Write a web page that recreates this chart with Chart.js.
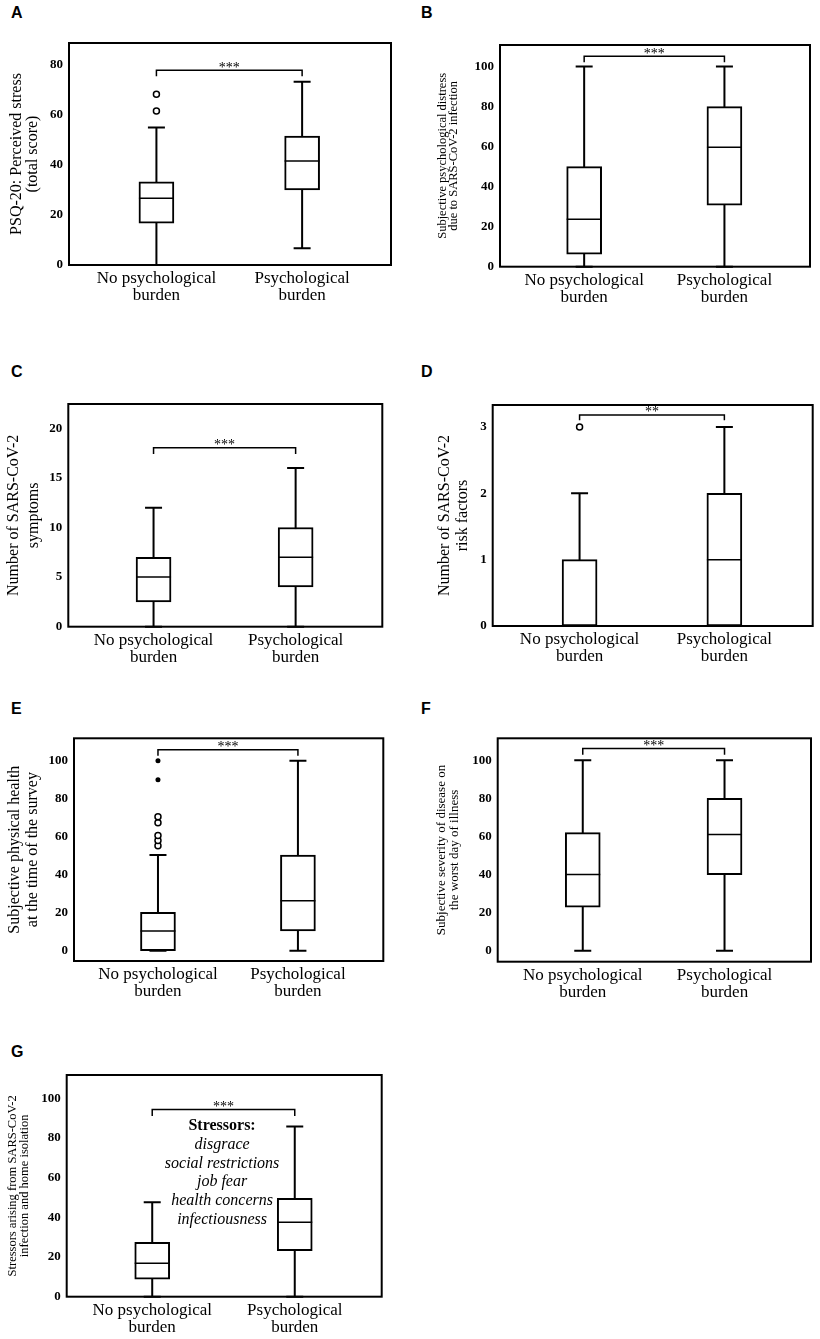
<!DOCTYPE html>
<html>
<head>
<meta charset="utf-8">
<title>Psychological burden box plots</title>
<script src="https://cdn.jsdelivr.net/npm/chart.js@4.4.1/dist/chart.umd.min.js"></script>
<style>
  body { margin: 0; background: #fff; overflow: hidden; }
  #page { position: relative; width: 820px; height: 1339px; background: #fff; }
  .panel { position: absolute; }
  .letter { position: absolute; font: bold 16px "Liberation Sans", Arial, sans-serif; line-height: 16px; color: #000; }
</style>
</head>
<body>
<div id="page"></div>

<script>
// groups, placed at x = 1 and x = 2 on a linear axis
const groups = [['No psychological', 'burden'], ['Psychological', 'burden']];
const groupX = [1, 2];

// A - PSQ-20 perceived stress
const aMin = [0, 6.7];
const aQ1 = [16.7, 30];
const aMedian = [26.7, 41.6];
const aQ3 = [33.3, 51.6];
const aMax = [55, 73.3];
const aOutliers = [[61.6, 68.3], []];
const aExtremes = [[], []];
const aTicks = [0, 20, 40, 60, 80];

// B - subjective psychological distress
const bMin = [0, 0];
const bQ1 = [6.3, 30.7];
const bMedian = [23.7, 59.7];
const bQ3 = [50, 80];
const bMax = [100, 100];
const bOutliers = [[], []];
const bExtremes = [[], []];
const bTicks = [0, 20, 40, 60, 80, 100];

// C - number of symptoms
const cMin = [0, 0];
const cQ1 = [2.5, 4];
const cMedian = [5, 7];
const cQ3 = [7, 10];
const cMax = [12, 16];
const cOutliers = [[], []];
const cExtremes = [[], []];
const cTicks = [0, 5, 10, 15, 20];

// D - number of risk factors
const dMin = [0, 0];
const dQ1 = [0, 0];
const dMedian = [0, 1];
const dQ3 = [1, 2];
const dMax = [2, 3];
const dOutliers = [[3], []];
const dExtremes = [[], []];
const dTicks = [0, 1, 2, 3];

// E - subjective physical health at time of survey
const eMin = [0, 0];
const eQ1 = [0, 10.4];
const eMedian = [10.4, 26.3];
const eQ3 = [20.2, 50.4];
const eMax = [50.4, 100];
const eOutliers = [[55.3, 58, 60.7, 67.4, 70.5], []];
const eExtremes = [[90, 100], []];
const eTicks = [0, 20, 40, 60, 80, 100];

// F - severity on the worst day
const fMin = [0, 0];
const fQ1 = [22.8, 40];
const fMedian = [40, 61];
const fQ3 = [62, 80];
const fMax = [100, 100];
const fOutliers = [[], []];
const fExtremes = [[], []];
const fTicks = [0, 20, 40, 60, 80, 100];

// G - stressors
const gMin = [0, 0];
const gQ1 = [8.8, 23.2];
const gMedian = [16.8, 37.5];
const gQ3 = [27.4, 49.6];
const gMax = [47.6, 85.7];
const gOutliers = [[], []];
const gExtremes = [[], []];
const gTicks = [0, 20, 40, 60, 80, 100];
const gNote = ['Stressors:', 'disgrace', 'social restrictions', 'job fear', 'health concerns', 'infectiousness'];

const SERIF = '"Liberation Serif", "Times New Roman", serif';
const BOX_WIDTH = 35;
const CAP_HALF = 8.5;
const PAD_TOP = 15;
const X_AXIS_H = 45;

// frame = chart area on the page; yRange / bracket in data units
const panels = [
  { letter: 'A', col: 0, frame: [69, 43, 391, 265], yRange: [0, 88.8], ticks: aTicks,
    low: aMin, q1: aQ1, median: aMedian, q3: aQ3, high: aMax, outliers: aOutliers, extremes: aExtremes,
    bracket: [77.9, 75.5], sig: '***',
    title: ['PSQ-20: Perceived stress', '(total score)'], tSize: 16, tLine: 16.5, tPad: 8.5, letterTop: 5 },
  { letter: 'B', col: 410, frame: [500, 45, 810, 266.7], yRange: [0, 110.8], ticks: bTicks,
    low: bMin, q1: bQ1, median: bMedian, q3: bQ3, high: bMax, outliers: bOutliers, extremes: bExtremes,
    bracket: [105.2, 102.2], sig: '***',
    title: ['Subjective psychological distress', 'due to SARS-CoV-2 infection'], tSize: 12.5, tLine: 11, tPad: 27.5, letterTop: 5 },
  { letter: 'C', col: 0, frame: [68.3, 404, 382.3, 626.7], yRange: [0, 22.45], ticks: cTicks,
    low: cMin, q1: cQ1, median: cMedian, q3: cQ3, high: cMax, outliers: cOutliers, extremes: cExtremes,
    bracket: [18.05, 17.4], sig: '***',
    title: ['Number of SARS-CoV-2', 'symptoms'], tSize: 16, tLine: 20, tPad: 3.3, letterTop: 364 },
  { letter: 'D', col: 410, frame: [492.7, 405, 812.7, 626], yRange: [0, 3.33], ticks: dTicks,
    low: dMin, q1: dQ1, median: dMedian, q3: dQ3, high: dMax, outliers: dOutliers, extremes: dExtremes,
    bracket: [3.18, 3.1], sig: '**',
    title: ['Number of SARS-CoV-2', 'risk factors'], tSize: 16, tLine: 18, tPad: 26, letterTop: 364 },
  { letter: 'E', col: 0, frame: [74, 738.3, 383.3, 961], yRange: [-5.4, 111.8], ticks: eTicks,
    low: eMin, q1: eQ1, median: eMedian, q3: eQ3, high: eMax, outliers: eOutliers, extremes: eExtremes,
    bracket: [105.8, 102.6], sig: '***',
    title: ['Subjective physical health', 'at the time of the survey'], tSize: 16, tLine: 18, tPad: 6, letterTop: 700.5 },
  { letter: 'F', col: 410, frame: [497.7, 738.3, 811, 961.7], yRange: [-5.8, 111.6], ticks: fTicks,
    low: fMin, q1: fQ1, median: fMedian, q3: fQ3, high: fMax, outliers: fOutliers, extremes: fExtremes,
    bracket: [106.3, 103], sig: '***',
    title: ['Subjective severity of disease on', 'the worst day of illness'], tSize: 13, tLine: 13, tPad: 25.5, letterTop: 700.5 },
  { letter: 'G', col: 0, frame: [66.7, 1075, 381.7, 1296.7], yRange: [0, 111.7], ticks: gTicks,
    low: gMin, q1: gQ1, median: gMedian, q3: gQ3, high: gMax, outliers: gOutliers, extremes: gExtremes,
    bracket: [94.3, 91], sig: '***', note: gNote, noteAt: [1.49, 86], noteStep: 18.7,
    title: ['Stressors arising from SARS-CoV-2', 'infection and home isolation'], tSize: 12.5, tLine: 12, tPad: 7, letterTop: 1044 }
];

// whiskers + caps under the boxes; medians, bracket, note and frame on top
const boxExtras = {
  id: 'boxExtras',
  beforeDatasetsDraw(chart, args, o) {
    const {ctx, scales: {x, y}} = chart;
    ctx.save();
    ctx.strokeStyle = '#000';
    ctx.lineWidth = 2;
    o.low.forEach((lo, i) => {
      const px = x.getPixelForValue(groupX[i]);
      const yLo = y.getPixelForValue(lo);
      const yHi = y.getPixelForValue(o.high[i]);
      ctx.beginPath();
      ctx.moveTo(px, yLo); ctx.lineTo(px, yHi);
      ctx.moveTo(px - CAP_HALF, yLo); ctx.lineTo(px + CAP_HALF, yLo);
      ctx.moveTo(px - CAP_HALF, yHi); ctx.lineTo(px + CAP_HALF, yHi);
      ctx.stroke();
    });
    ctx.restore();
  },
  afterDatasetsDraw(chart, args, o) {
    const {ctx, chartArea: a, scales: {x, y}} = chart;
    ctx.save();
    ctx.strokeStyle = '#000';
    ctx.fillStyle = '#000';

    ctx.lineWidth = 1.5;
    o.median.forEach((m, i) => {
      const px = x.getPixelForValue(groupX[i]);
      const py = y.getPixelForValue(m);
      ctx.beginPath();
      ctx.moveTo(px - BOX_WIDTH / 2, py);
      ctx.lineTo(px + BOX_WIDTH / 2, py);
      ctx.stroke();
    });

    const x1 = x.getPixelForValue(groupX[0]);
    const x2 = x.getPixelForValue(groupX[1]);
    const yl = y.getPixelForValue(o.bracket[0]);
    const yf = y.getPixelForValue(o.bracket[1]);
    ctx.beginPath();
    ctx.moveTo(x1, yf); ctx.lineTo(x1, yl); ctx.lineTo(x2, yl); ctx.lineTo(x2, yf);
    ctx.stroke();
    ctx.font = '14px ' + SERIF;
    ctx.textAlign = 'center';
    ctx.textBaseline = 'alphabetic';
    ctx.fillText(o.sig, (x1 + x2) / 2, yl + 1.5);

    if (o.note) {
      const nx = x.getPixelForValue(o.noteAt[0]);
      const ny = y.getPixelForValue(o.noteAt[1]);
      ctx.textBaseline = 'middle';
      o.note.forEach((line, i) => {
        ctx.font = (i === 0 ? 'bold ' : 'italic ') + '16px ' + SERIF;
        ctx.fillText(line, nx, ny + i * o.noteStep);
      });
    }

    ctx.lineWidth = 2;
    ctx.strokeRect(a.left, a.top, a.right - a.left, a.bottom - a.top);
    ctx.restore();
  }
};

const page = document.getElementById('page');

panels.forEach(p => {
  const [fl, ft, fr, fb] = p.frame;
  const top = Math.round(ft - PAD_TOP);
  const height = Math.round(fb + X_AXIS_H) - top;
  const yAxisW = fl - p.col;
  const xAxisH = top + height - fb;

  const letter = document.createElement('div');
  letter.className = 'letter';
  letter.textContent = p.letter;
  letter.style.left = (p.col + 11) + 'px';
  letter.style.top = p.letterTop + 'px';
  page.appendChild(letter);

  const canvas = document.createElement('canvas');
  canvas.className = 'panel';
  canvas.width = 410;
  canvas.height = height;
  canvas.style.left = p.col + 'px';
  canvas.style.top = top + 'px';
  canvas.style.width = '410px';
  canvas.style.height = height + 'px';
  page.appendChild(canvas);

  const boxes = groupX.map((gx, i) => ({x: gx, y: [p.q1[i], p.q3[i]]}));
  const outs = groupX.flatMap((gx, i) => p.outliers[i].map(v => ({x: gx, y: v})));
  const exts = groupX.flatMap((gx, i) => p.extremes[i].map(v => ({x: gx, y: v})));

  new Chart(canvas, {
    type: 'bar',
    data: {
      datasets: [
        {
          type: 'bar',
          data: boxes,
          backgroundColor: '#fff',
          borderColor: '#000',
          borderWidth: 2,
          borderSkipped: false,
          barThickness: BOX_WIDTH
        },
        {
          type: 'scatter',
          data: outs,
          pointRadius: 3,
          pointBorderWidth: 1.5,
          pointBackgroundColor: '#fff',
          pointBorderColor: '#000'
        },
        {
          type: 'scatter',
          data: exts,
          pointRadius: 2.5,
          pointBorderWidth: 0,
          pointBackgroundColor: '#000',
          pointBorderColor: '#000'
        }
      ]
    },
    options: {
      responsive: false,
      animation: false,
      layout: { padding: { top: ft - top, right: p.col + 410 - fr, left: 0, bottom: 0 } },
      plugins: {
        legend: { display: false },
        tooltip: { enabled: false },
        boxExtras: {
          low: p.low, high: p.high, median: p.median, bracket: p.bracket, sig: p.sig,
          note: p.note, noteAt: p.noteAt, noteStep: p.noteStep
        }
      },
      scales: {
        x: {
          type: 'linear',
          min: 0.4,
          max: 2.61,
          offset: false,
          grid: { display: false, drawTicks: false },
          border: { display: false },
          afterBuildTicks: s => { s.ticks = groupX.map(v => ({value: v})); },
          afterFit: s => { s.height = xAxisH; },
          ticks: {
            color: '#000',
            padding: 5,
            autoSkip: false,
            maxRotation: 0,
            font: { family: SERIF, size: 17, lineHeight: 1.0 },
            callback: v => groups[groupX.indexOf(v)]
          }
        },
        y: {
          min: p.yRange[0],
          max: p.yRange[1],
          grid: { display: false, drawTicks: false },
          border: { display: false },
          afterBuildTicks: s => { s.ticks = p.ticks.map(v => ({value: v})); },
          afterFit: s => { s.width = yAxisW; },
          ticks: {
            color: '#000',
            padding: 6,
            font: { family: SERIF, size: 13, weight: 'bold' }
          },
          title: {
            display: true,
            text: p.title,
            color: '#000',
            font: { family: SERIF, size: p.tSize, lineHeight: p.tLine / p.tSize },
            padding: { top: p.tPad, bottom: 0 }
          }
        }
      }
    },
    plugins: [boxExtras]
  });
});
</script>
</body>
</html>
